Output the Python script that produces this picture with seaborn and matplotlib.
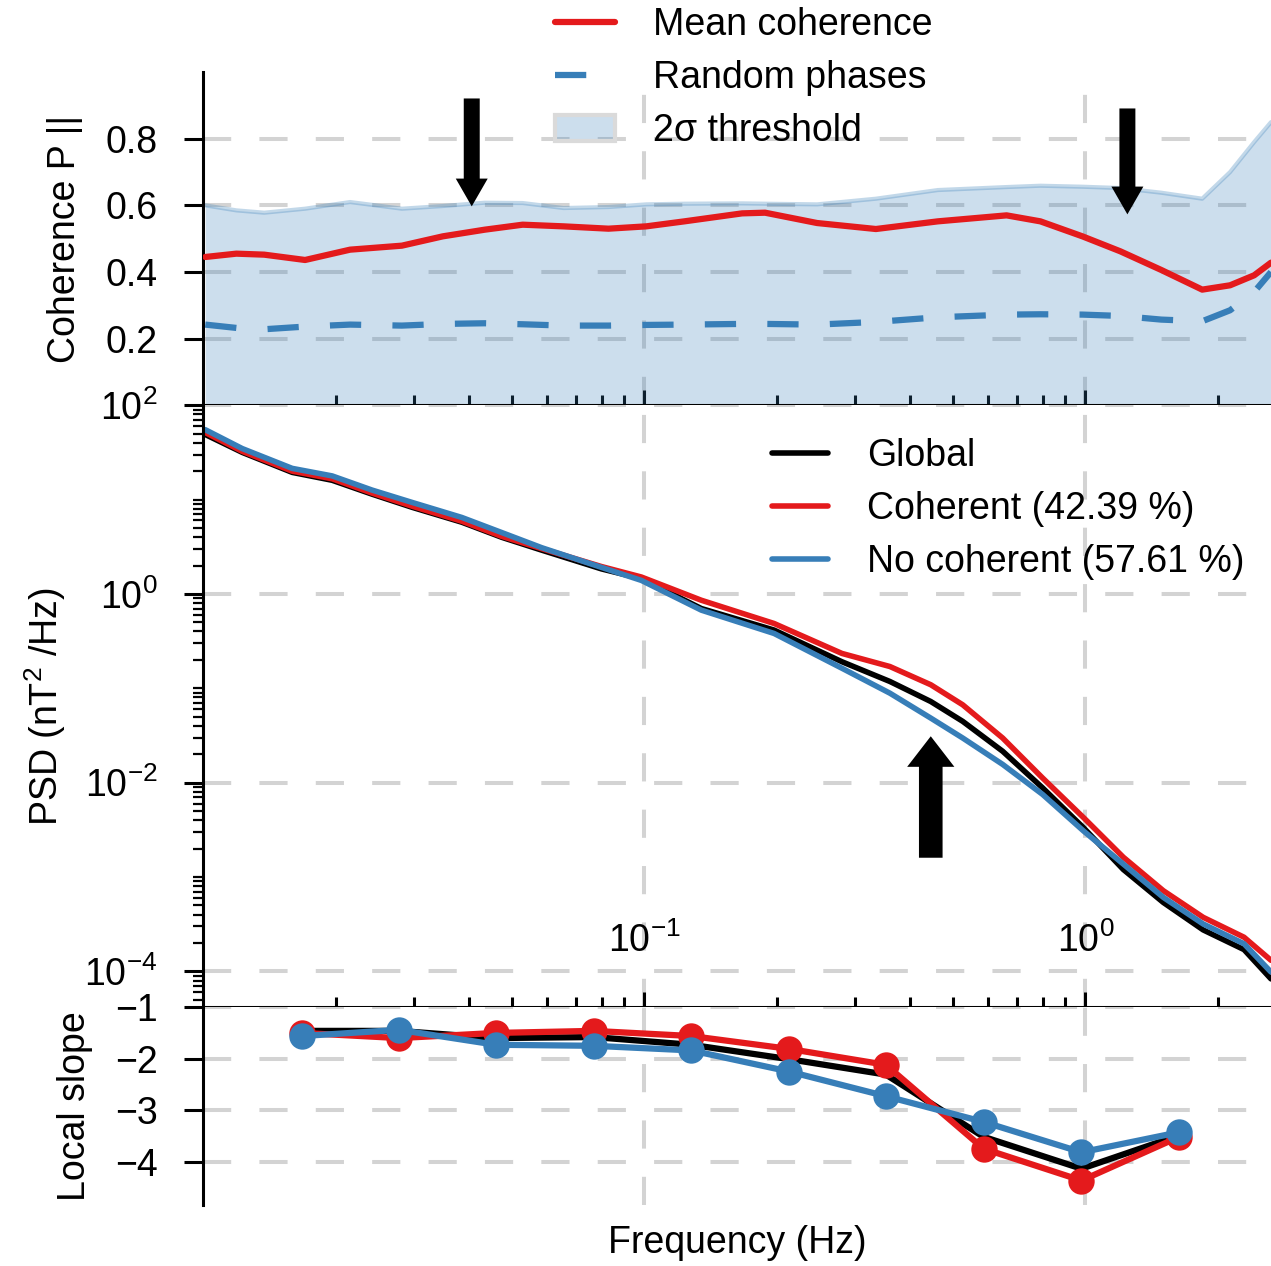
import numpy as np
import pandas as pd
import matplotlib
matplotlib.use("Agg")
import matplotlib.pyplot as plt
import seaborn as sns
from matplotlib.patches import Patch
from matplotlib.lines import Line2D
from matplotlib.ticker import LogLocator, NullFormatter, FixedLocator

# ---------------- data ----------------
# top panel: coherence
freq_coh = [0.0101, 0.01188, 0.01374, 0.01701, 0.02151, 0.02819, 0.03491, 0.04345,
            0.05297, 0.06557, 0.0829, 0.101, 0.1232, 0.1666, 0.1878, 0.2463, 0.3349,
            0.4627, 0.6626, 0.7906, 0.9845, 1.2, 1.486, 1.84, 2.128, 2.413, 2.635]
mean_coh = [0.445, 0.455, 0.452, 0.436, 0.467, 0.479, 0.507, 0.527, 0.542, 0.537,
            0.530, 0.537, 0.552, 0.576, 0.578, 0.547, 0.529, 0.552, 0.570, 0.552,
            0.507, 0.462, 0.406, 0.347, 0.360, 0.390, 0.428]
random_coh = [0.242, 0.232, 0.228, 0.236, 0.242, 0.239, 0.244, 0.246, 0.243, 0.239,
              0.239, 0.241, 0.242, 0.244, 0.244, 0.242, 0.250, 0.264, 0.272, 0.273,
              0.272, 0.268, 0.257, 0.252, 0.285, 0.340, 0.400]
thresh_coh = [0.600, 0.585, 0.578, 0.590, 0.610, 0.590, 0.598, 0.608, 0.607, 0.592,
              0.595, 0.603, 0.605, 0.606, 0.605, 0.603, 0.620, 0.646, 0.655, 0.659,
              0.656, 0.652, 0.638, 0.620, 0.700, 0.790, 0.850]

# middle panel: PSD
freq_psd = [0.0101, 0.01225, 0.0159, 0.01959, 0.02413, 0.02972, 0.03855, 0.04748,
            0.05848, 0.07993, 0.09845, 0.1346, 0.1968, 0.2805, 0.3603, 0.446, 0.527,
            0.6492, 0.7996, 0.9897, 1.219, 1.502, 1.849, 2.289, 2.635]
psd_global = [48.9, 31.6, 19.4, 16.0, 11.4, 8.28, 5.75, 3.98, 2.91, 1.84, 1.45, 0.700,
              0.414, 0.191, 0.118, 0.0724, 0.0446, 0.0215, 0.00881, 0.00333, 0.00120,
              0.000537, 0.000275, 0.000170, 0.0000832]
psd_coherent = [51.3, 32.4, 20.0, 16.6, 11.7, 8.51, 5.89, 4.07, 3.02, 1.95, 1.51, 0.857,
                0.486, 0.234, 0.170, 0.109, 0.0668, 0.0297, 0.0112, 0.00427, 0.00162,
                0.000716, 0.000374, 0.000230, 0.000131]
psd_nocoherent = [55.0, 34.7, 21.4, 17.8, 12.6, 9.33, 6.46, 4.47, 3.09, 1.91, 1.39, 0.673,
                  0.381, 0.163, 0.0887, 0.0483, 0.0297, 0.0156, 0.00750, 0.00308, 0.00137,
                  0.000608, 0.000318, 0.000196, 0.0000984]

# bottom panel: local slope
freq_slope = [0.01675, 0.02776, 0.04602, 0.07667, 0.1277, 0.2128, 0.3528, 0.5876, 0.9795, 1.632]
slope_global = [-1.46, -1.46, -1.60, -1.58, -1.73, -2.01, -2.31, -3.52, -4.14, -3.49]
slope_coherent = [-1.50, -1.60, -1.50, -1.46, -1.56, -1.81, -2.12, -3.75, -4.37, -3.52]
slope_nocoherent = [-1.56, -1.44, -1.73, -1.75, -1.84, -2.25, -2.73, -3.23, -3.82, -3.43]

legend_top = ["Mean coherence", "Random phases", "2\u03c3 threshold"]
legend_mid = ["Global", "Coherent (42.39 %)", "No coherent (57.61 %)"]

# ---------------- style ----------------
sns.set_theme(style="ticks")
plt.rcParams["font.family"] = ["Liberation Sans", "DejaVu Sans"]
plt.rcParams["mathtext.fontset"] = "custom"
plt.rcParams["mathtext.rm"] = "Liberation Sans"
plt.rcParams["mathtext.it"] = "Liberation Sans:italic"
plt.rcParams["mathtext.default"] = "regular"
plt.rcParams["axes.edgecolor"] = "black"
plt.rcParams["axes.linewidth"] = 2.2
plt.rcParams["xtick.color"] = "black"
plt.rcParams["ytick.color"] = "black"
plt.rcParams["text.color"] = "black"
plt.rcParams["axes.labelcolor"] = "black"

RED = "#e41a1c"
BLUE = "#377eb8"
GRIDC = "#d3d3d3"
TICK_FS = 27
LAB_FS = 27

fig = plt.figure(figsize=(12.71, 12.66), dpi=100)
gs = fig.add_gridspec(3, 1, height_ratios=[333, 602, 198], hspace=0,
                      left=0.16, right=1.0, top=0.943, bottom=0.048)
ax1 = fig.add_subplot(gs[0])
ax2 = fig.add_subplot(gs[1], sharex=ax1)
ax3 = fig.add_subplot(gs[2], sharex=ax1)

df_coh = pd.DataFrame({"f": freq_coh, "mean": mean_coh, "rand": random_coh, "thr": thresh_coh})
df_psd = pd.DataFrame({"f": freq_psd, "g": psd_global, "c": psd_coherent, "n": psd_nocoherent})
df_sl = pd.DataFrame({"f": freq_slope, "g": slope_global, "c": slope_coherent, "n": slope_nocoherent})

# ---- top panel ----
ax1.fill_between(df_coh["f"], 0, df_coh["thr"], color=BLUE, alpha=0.25, lw=0, zorder=1)
sns.lineplot(data=df_coh, x="f", y="thr", ax=ax1, color=BLUE, alpha=0.3, lw=3, zorder=2)
sns.lineplot(data=df_coh, x="f", y="rand", ax=ax1, color=BLUE, lw=4.5,
             linestyle=(0, (5, 5)), zorder=3)
sns.lineplot(data=df_coh, x="f", y="mean", ax=ax1, color=RED, lw=4.5, zorder=4)

# ---- middle panel ----
sns.lineplot(data=df_psd, x="f", y="g", ax=ax2, color="black", lw=4, label=legend_mid[0])
sns.lineplot(data=df_psd, x="f", y="c", ax=ax2, color=RED, lw=4, label=legend_mid[1])
sns.lineplot(data=df_psd, x="f", y="n", ax=ax2, color=BLUE, lw=4, label=legend_mid[2])

# ---- bottom panel ----
sns.lineplot(data=df_sl, x="f", y="g", ax=ax3, color="black", lw=4.5)
sns.lineplot(data=df_sl, x="f", y="c", ax=ax3, color=RED, lw=4.5, marker="o",
             markersize=19, markeredgewidth=0)
sns.lineplot(data=df_sl, x="f", y="n", ax=ax3, color=BLUE, lw=4.5, marker="o",
             markersize=19, markeredgewidth=0)

# ---- axes formatting ----
for ax in (ax1, ax2, ax3):
    ax.set_xscale("log")
    ax.grid(True, which="major", ls=(0, (7, 7)), color=GRIDC, lw=2.9)
    ax.grid(False, which="minor")
    ax.tick_params(axis="y", which="major", direction="out", length=14, width=2.2,
                   labelsize=TICK_FS, pad=19)
    ax.tick_params(axis="y", which="minor", direction="out", length=7, width=1.6)
    ax.tick_params(axis="x", which="major", direction="inout", length=22, width=2.2,
                   labelsize=TICK_FS)
    ax.tick_params(axis="x", which="minor", direction="inout", length=14, width=2.2)
    ax.set_xlabel("")
    ax.set_ylabel("")

ax1.set_xlim(0.01, 2.635)
ax1.xaxis.set_major_locator(FixedLocator([0.1, 1.0]))
ax1.xaxis.set_minor_locator(LogLocator(base=10, subs=np.arange(2, 10), numticks=50))

ax1.set_ylim(0, 1.0)
ax1.set_yticks([0.2, 0.4, 0.6, 0.8])
ax1.set_yticklabels(["0.2", "0.4", "0.6", "0.8"])
ax1.tick_params(axis="x", which="both", labelbottom=False)
for s in ("top", "right"):
    ax1.spines[s].set_visible(False)
ax1.set_ylabel("Coherence P ||", fontsize=LAB_FS, labelpad=16)

ax2.set_yscale("log")
ax2.set_ylim(10 ** -4.38, 100)
ax2.yaxis.set_major_locator(FixedLocator([1e-4, 1e-2, 1e0, 1e2]))
ax2.yaxis.set_minor_locator(LogLocator(base=10, subs=np.arange(1, 10), numticks=100))
ax2.yaxis.set_minor_formatter(NullFormatter())
ax2.tick_params(axis="x", which="major", labelbottom=True, pad=-72)
for s in ("top", "right"):
    ax2.spines[s].set_visible(False)
ax2.set_ylabel("PSD (nT$^2$ /Hz)", fontsize=LAB_FS, labelpad=12)

ax3.set_ylim(-4.85, -1)
ax3.set_yticks([-4, -3, -2, -1])
ax3.tick_params(axis="x", which="both", bottom=False, top=False, labelbottom=False)
for s in ("top", "right", "bottom"):
    ax3.spines[s].set_visible(False)
ax3.set_ylabel("Local slope", fontsize=LAB_FS, labelpad=16)
ax3.set_xlabel("Frequency (Hz)", fontsize=LAB_FS, labelpad=14)

# ---- arrows ----
arrow_small = dict(facecolor="black", edgecolor="none", width=11.5, headwidth=23,
                   headlength=20, shrink=0)
ax1.annotate("", xy=(0.0406, 0.597), xytext=(0.0406, 0.921), arrowprops=arrow_small)
ax1.annotate("", xy=(1.245, 0.573), xytext=(1.245, 0.891), arrowprops=arrow_small)
ax2.annotate("", xy=(0.446, 0.031), xytext=(0.446, 0.0016),
             arrowprops=dict(facecolor="black", edgecolor="none", width=17, headwidth=34,
                             headlength=22, shrink=0))

# ---- legends ----
handles_top = [
    Line2D([], [], color=RED, lw=4.5),
    Line2D([], [], color=BLUE, lw=4.5, linestyle=(0, (5, 5))),
    Patch(facecolor=(0.216, 0.494, 0.722, 0.25), edgecolor="#dadada", lw=3),
]
ax1.legend(handles_top, legend_top, loc="center", bbox_to_anchor=(0.506, 0.982),
           frameon=False, fontsize=LAB_FS, handlelength=1.6, handletextpad=1.0,
           labelspacing=0.45, borderaxespad=0)
ax2.legend(loc="center", bbox_to_anchor=(0.754, 0.827), frameon=False, fontsize=LAB_FS,
           handlelength=1.5, handletextpad=1.05, labelspacing=0.45, borderaxespad=0)

fig.savefig("out.png", dpi=100)
